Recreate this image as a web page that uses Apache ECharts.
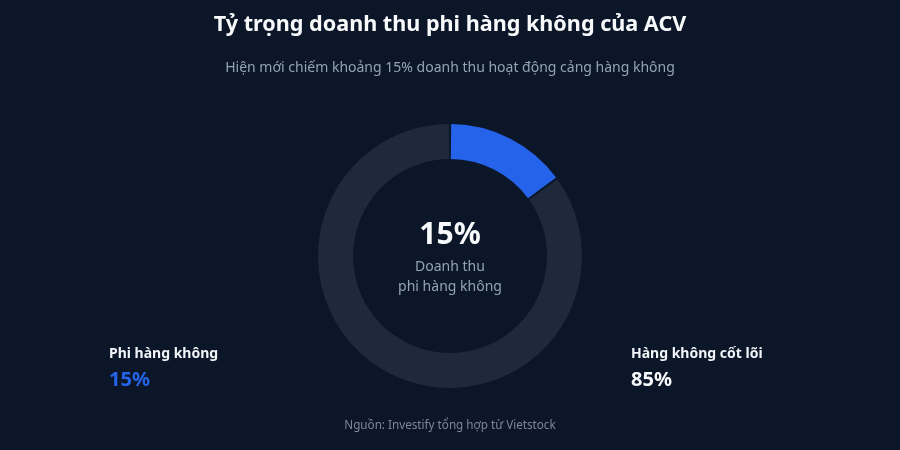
<!DOCTYPE html>
<html>
<head>
<meta charset="utf-8">
<style>
  html, body { margin: 0; padding: 0; background: #0b1628; }
  #chart { width: 900px; height: 450px; }
</style>
</head>
<body>
<div id="chart"></div>
<script src="https://cdn.jsdelivr.net/npm/echarts@6/dist/echarts.min.js"></script>
<script type="text/javascript">
  // du lieu
  var categories = ['Phi hàng không', 'Hàng không cốt lõi'];
  var shares = [15, 85];
  var sliceColors = ['#2563eb', '#1e2a3c'];
  var labelColors = ['#2563eb', '#f8fafc'];

  var font = '"Noto Sans", "Open Sans", sans-serif';
  var myChart = echarts.init(document.getElementById('chart'));

  var pieData = categories.map(function (c, i) {
    return { name: c, value: shares[i], itemStyle: { color: sliceColors[i] } };
  });

  // hai khoi nhan hai ben
  var sideX = [109, 631];
  var sideLabels = [];
  categories.forEach(function (c, i) {
    sideLabels.push({
      type: 'text', left: sideX[i], top: 347,
      style: { text: c, fill: '#f1f5f9', font: 'bold 14px ' + font }
    });
    sideLabels.push({
      type: 'text', left: sideX[i], top: 370,
      style: { text: shares[i] + '%', fill: labelColors[i], font: 'bold 20px ' + font }
    });
  });

  var option = {
    backgroundColor: '#0b1628',
    title: [
      {
        text: 'Tỷ trọng doanh thu phi hàng không của ACV',
        left: 'center', top: 9,
        textStyle: { color: '#f8fafc', fontSize: 21.6, fontWeight: 'bold', fontFamily: font }
      },
      {
        text: 'Hiện mới chiếm khoảng 15% doanh thu hoạt động cảng hàng không',
        left: 'center', top: 56,
        textStyle: { color: '#94a3b8', fontSize: 14, fontWeight: 'normal', fontFamily: font }
      },
      {
        text: 'Nguồn: Investify tổng hợp từ Vietstock',
        left: 'center', top: 415,
        textStyle: { color: '#7c8799', fontSize: 11.7, fontWeight: 'normal', fontFamily: font }
      }
    ],
    graphic: [
      {
        type: 'text', left: 'center', top: 220,
        style: { text: shares[0] + '%', fill: '#f8fafc', font: 'bold 30px ' + font, textAlign: 'center' }
      },
      {
        type: 'text', left: 'center', top: 257,
        style: { text: 'Doanh thu\nphi hàng không', fill: '#94a3b8', font: '14px ' + font, textAlign: 'center', lineHeight: 20 }
      }
    ].concat(sideLabels),
    series: [
      {
        type: 'pie',
        center: [450, 256],
        radius: [97, 132],
        startAngle: 90,
        clockwise: true,
        padAngle: 1,
        silent: true,
        label: { show: false },
        labelLine: { show: false },
        itemStyle: { borderWidth: 0 },
        data: pieData
      }
    ]
  };
  myChart.setOption(option);
</script>
</body>
</html>
